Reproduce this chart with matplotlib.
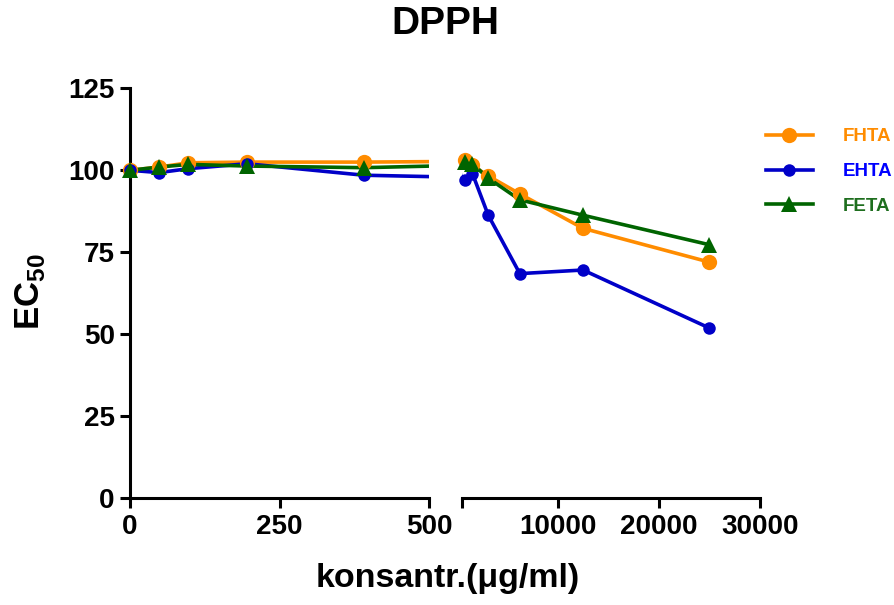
import matplotlib
matplotlib.use("Agg")
import matplotlib.pyplot as plt
from matplotlib.lines import Line2D

plt.rcParams['font.family'] = ['Liberation Sans', 'DejaVu Sans']
plt.rcParams['mathtext.fontset'] = 'custom'
plt.rcParams['mathtext.rm'] = 'Liberation Sans'
plt.rcParams['mathtext.bf'] = 'Liberation Sans:bold'

# Data
conc = [0, 48.83, 97.66, 195.3, 390.6, 781.25, 1562.5, 3125, 6250, 12500, 25000]
fhta = [100.0, 101.0, 102.3, 102.5, 102.5, 103.0, 101.5, 98.3, 92.8, 82.3, 72.0]
ehta = [100.0, 99.3, 100.5, 102.0, 98.5, 97.0, 99.0, 86.3, 68.5, 69.6, 51.9]
feta = [100.0, 101.0, 101.8, 101.3, 100.8, 102.5, 102.0, 97.6, 91.0, 86.3, 77.3]
series_names = ['FHTA', 'EHTA', 'FETA']
left_ticks = [0, 250, 500]
right_ticks = [10000, 20000, 30000]
y_ticks = [0, 25, 50, 75, 100, 125]

colors = ['#FF8C00', '#0000C8', '#006400']
text_colors = ['#FF8C00', '#0000FF', '#1E6E1E']
markers = ['o', 'o', '^']
msizes = [11, 9, 12]

W, H = 895, 605
fig = plt.figure(figsize=(W / 100, H / 100), dpi=100)

def fx(px):
    return px / W

def fy(py):
    return 1 - py / H

y0, y1 = 498.3, 88.3
axL = fig.add_axes([fx(130), fy(y0), fx(429.3 - 130), (y0 - y1) / H])
axR = fig.add_axes([fx(461.7), fy(y0), fx(760 - 461.7), (y0 - y1) / H])

lw_axis = 2.2
for ax, (xmin, xmax) in [(axL, (0, 500)), (axR, (500, 30000))]:
    for i, vals in enumerate([fhta, ehta, feta]):
        ax.plot(conc, vals, color=colors[i], lw=2.6, zorder=2 + i)
        xs = [c for c in conc if xmin <= c <= xmax]
        ys = [v for c, v in zip(conc, vals) if xmin <= c <= xmax]
        ax.plot(xs, ys, linestyle='none', marker=markers[i], ms=msizes[i],
                color=colors[i], markeredgewidth=0, clip_on=False, zorder=5 + i)
    ax.set_xlim(xmin, xmax)
    ax.set_ylim(0, 125)
    ax.spines['top'].set_visible(False)
    ax.spines['right'].set_visible(False)
    ax.spines['bottom'].set_linewidth(lw_axis)
    ax.spines['left'].set_linewidth(lw_axis)
    ax.tick_params(axis='both', direction='out', length=7, width=lw_axis,
                   labelsize=20, pad=4, colors='black')
    ax.set_facecolor('none')

axL.set_xticks(left_ticks)
axL.set_xticklabels([str(t) for t in left_ticks])
axL.set_yticks(y_ticks)
axL.set_yticklabels([str(t) for t in y_ticks])

axR.spines['left'].set_visible(False)
axR.set_yticks([])
axR.set_xticks([500] + right_ticks)
axR.set_xticklabels([''] + [str(t) for t in right_ticks])

for ax in (axL, axR):
    for lab in ax.get_xticklabels() + ax.get_yticklabels():
        lab.set_fontweight('bold')

# title and labels
fig.text(fx(445), fy(24), 'DPPH', ha='center', va='center', fontsize=28, fontweight='bold')
fig.text(fx(448), fy(578), 'konsantr.(μg/ml)', ha='center', va='center', fontsize=24.5, fontweight='bold')
fig.text(fx(30), fy(292), r'$\mathbf{EC}_{\mathbf{50}}$', ha='center', va='center',
         fontsize=25, rotation=90)

handles = [Line2D([0], [0], color=colors[i], lw=2.6, marker=markers[i], ms=msizes[i],
                  markeredgewidth=0) for i in range(3)]
leg = fig.legend(handles, series_names, loc='upper left', bbox_to_anchor=(fx(766), fy(128)),
                 frameon=False, handlelength=2.5, handletextpad=1.6, labelspacing=0.95,
                 borderpad=0, borderaxespad=0, prop={'size': 13.5, 'weight': 'bold'})
for t, c in zip(leg.get_texts(), text_colors):
    t.set_color(c)

fig.savefig('out.png', dpi=100)
